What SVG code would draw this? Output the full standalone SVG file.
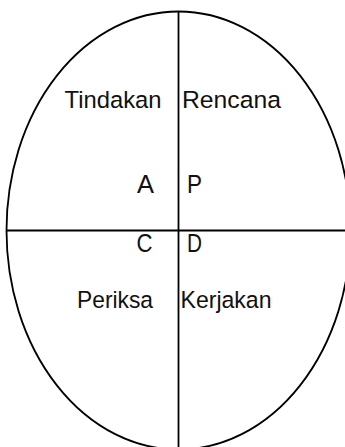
<svg xmlns="http://www.w3.org/2000/svg" width="345" height="447" viewBox="0 0 345 447">
<style>
.shape{fill:none;stroke:#000;stroke-width:1.8}
.lbl{font-family:"Liberation Sans",Arial,sans-serif;font-size:24.5px;fill:#111}
.let{font-family:"Liberation Sans",Arial,sans-serif;font-size:26.5px;fill:#111}
</style>
<rect width="345" height="447" fill="#fff"/>
<g id="cycle">
<ellipse class="shape" cx="178.5" cy="230.5" rx="172" ry="219"/>
</g>
<g id="connectors">
<line class="shape" x1="178.5" y1="11" x2="178.5" y2="447"/>
<line class="shape" x1="6" y1="230.5" x2="345" y2="230.5"/>
</g>
<g id="tindakan"><text class="lbl" x="64.5" y="108" textLength="97" lengthAdjust="spacingAndGlyphs">Tindakan</text></g>
<g id="rencana"><text class="lbl" x="182" y="108" textLength="99" lengthAdjust="spacingAndGlyphs">Rencana</text></g>
<g id="a"><text class="let" x="137" y="193" textLength="17" lengthAdjust="spacingAndGlyphs">A</text></g>
<g id="p"><text class="let" x="187" y="193" textLength="15" lengthAdjust="spacingAndGlyphs">P</text></g>
<g id="c"><text class="let" x="136.5" y="252" textLength="16" lengthAdjust="spacingAndGlyphs">C</text></g>
<g id="d"><text class="let" x="187" y="252" textLength="15" lengthAdjust="spacingAndGlyphs">D</text></g>
<g id="periksa"><text class="lbl" x="77" y="308" textLength="76" lengthAdjust="spacingAndGlyphs">Periksa</text></g>
<g id="kerjakan"><text class="lbl" x="180.5" y="308" textLength="91" lengthAdjust="spacingAndGlyphs">Kerjakan</text></g>
</svg>
